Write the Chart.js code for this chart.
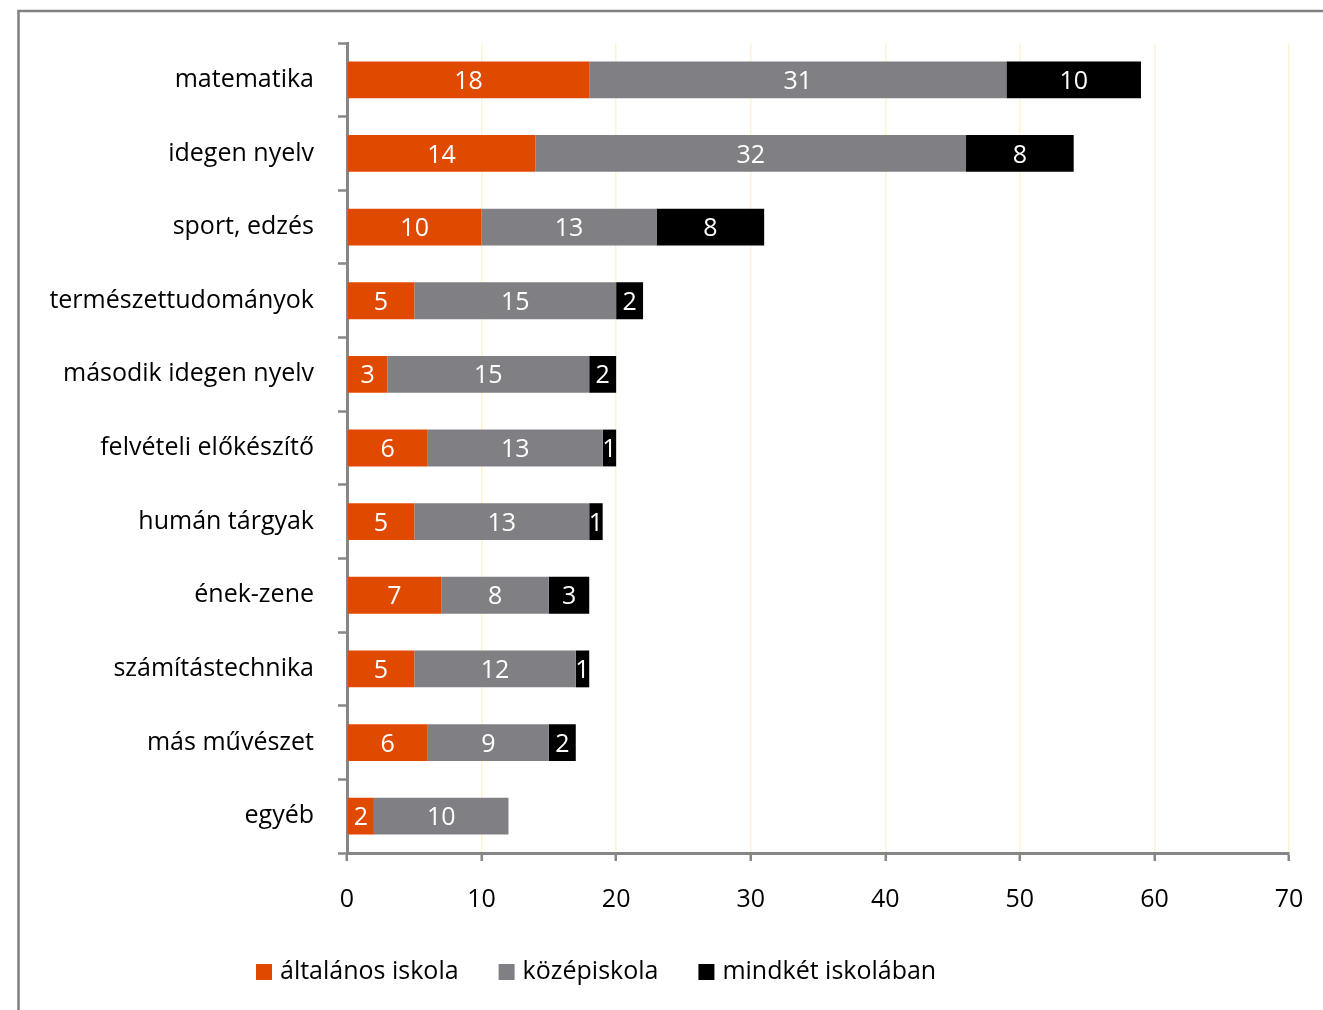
<!DOCTYPE html>
<html>
<head>
<meta charset="utf-8">
<script src="https://cdn.jsdelivr.net/npm/chart.js@4/dist/chart.umd.min.js"></script>
<style>
  html, body { margin: 0; padding: 0; background: #fff; }
  #wrap { width: 1323px; height: 1010px; position: relative; }
</style>
</head>
<body>
<div id="wrap"><canvas id="chart"></canvas></div>
<script>
// data
const categories = ['matematika', 'idegen nyelv', 'sport, edzés', 'természettudományok',
  'második idegen nyelv', 'felvételi előkészítő', 'humán tárgyak', 'ének-zene',
  'számítástechnika', 'más művészet', 'egyéb'];
const altalanos = [18, 14, 10, 5, 3, 6, 5, 7, 5, 6, 2];
const kozep = [31, 32, 13, 15, 15, 13, 13, 8, 12, 9, 10];
const mindketto = [10, 8, 8, 2, 2, 1, 1, 3, 1, 2, 0];
const seriesNames = ['általános iskola', 'középiskola', 'mindkét iskolában'];
const xTicks = [0, 10, 20, 30, 40, 50, 60, 70];

const FONT = '"Open Sans", sans-serif';
const axisGray = '#868686';

// values in the middle of each segment
const valueLabels = {
  id: 'valueLabels',
  afterDatasetsDraw(chart) {
    const ctx = chart.ctx;
    ctx.save();
    ctx.font = '25px ' + FONT;
    ctx.fillStyle = '#fff';
    ctx.textAlign = 'center';
    ctx.textBaseline = 'middle';
    chart.data.datasets.forEach((ds, i) => {
      chart.getDatasetMeta(i).data.forEach((bar, j) => {
        const v = ds.data[j];
        if (!v) return;
        ctx.fillText(String(v), (bar.x + bar.base) / 2, bar.y + 2);
      });
    });
    ctx.restore();
  }
};

// outer frame + legend row
const frameAndLegend = {
  id: 'frameAndLegend',
  afterDraw(chart) {
    const ctx = chart.ctx;
    ctx.save();
    ctx.strokeStyle = '#808080';
    ctx.lineWidth = 2.5;
    ctx.beginPath();
    ctx.moveTo(18.5, 1010);
    ctx.lineTo(18.5, 11);
    ctx.lineTo(1323, 11);
    ctx.stroke();

    ctx.font = '25px ' + FONT;
    ctx.textBaseline = 'middle';
    ctx.textAlign = 'left';
    let x = 256;
    const y = 972;
    chart.data.datasets.forEach(ds => {
      ctx.fillStyle = ds.backgroundColor;
      ctx.fillRect(x, y - 8, 16, 16);
      ctx.fillStyle = '#000';
      ctx.fillText(ds.label, x + 24, y);
      x += 24 + ctx.measureText(ds.label).width + 40;
    });
    ctx.restore();
  }
};

new Chart(document.getElementById('chart'), {
  type: 'bar',
  data: {
    labels: categories,
    datasets: [
      { label: seriesNames[0], data: altalanos, backgroundColor: '#E04A00' },
      { label: seriesNames[1], data: kozep, backgroundColor: '#807F83' },
      { label: seriesNames[2], data: mindketto, backgroundColor: '#000000' }
    ]
  },
  options: {
    indexAxis: 'y',
    responsive: true,
    maintainAspectRatio: false,
    animation: false,
    barPercentage: 0.5,
    categoryPercentage: 1,
    layout: { padding: { left: 0, right: 34, top: 43, bottom: 60 } },
    plugins: {
      legend: { display: false },
      tooltip: { enabled: false }
    },
    scales: {
      x: {
        stacked: true,
        min: 0,
        max: 70,
        afterBuildTicks: s => { s.ticks = xTicks.map(v => ({ value: v })); },
        afterFit: s => { s.height = 97; s.paddingLeft = 0; s.paddingRight = 0; },
        grid: { color: '#FFF4D2', lineWidth: 1.5, tickColor: axisGray, tickLength: 8, tickWidth: 2.5 },
        border: { color: axisGray, width: 3 },
        ticks: { color: '#000', padding: 24, font: { family: FONT, size: 25 } }
      },
      y: {
        stacked: true,
        afterFit: s => { s.width = 347; },
        grid: { drawOnChartArea: false, tickColor: axisGray, tickLength: 9, tickWidth: 2.5 },
        border: { color: axisGray, width: 3 },
        ticks: { color: '#000', padding: 24, font: { family: FONT, size: 25 } }
      }
    }
  },
  plugins: [valueLabels, frameAndLegend]
});
</script>
</body>
</html>
